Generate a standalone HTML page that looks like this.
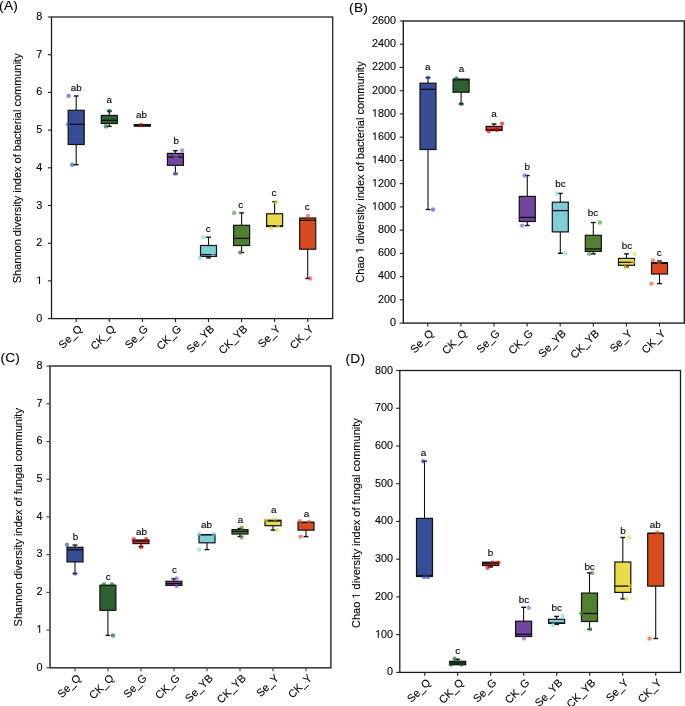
<!DOCTYPE html><html><head><meta charset="utf-8"><style>html,body{margin:0;padding:0;background:#fff;}svg{display:block;}text{font-family:"Liberation Sans", sans-serif;stroke:#000;stroke-width:0.12px;}</style></head><body>
<svg width="685" height="706" viewBox="0 0 685 706">
<rect x="0" y="0" width="685" height="706" fill="#fff"/><g opacity="0.999">
<g><line x1="76.2" y1="96" x2="76.2" y2="110.3" stroke="#111" stroke-width="1.1"/><line x1="73.8" y1="96" x2="78.6" y2="96" stroke="#111" stroke-width="1.4"/><line x1="76.2" y1="144.5" x2="76.2" y2="164.7" stroke="#111" stroke-width="1.1"/><line x1="73.8" y1="164.7" x2="78.6" y2="164.7" stroke="#111" stroke-width="1.4"/><rect x="68.2" y="110.3" width="16" height="34.2" fill="#374d97" stroke="#111" stroke-width="1.2"/><line x1="68.2" y1="124.3" x2="84.2" y2="124.3" stroke="#111" stroke-width="1.3"/><circle cx="68.6" cy="95.9" r="2.2" fill="#2a46b8" fill-opacity="0.62"/><circle cx="72.2" cy="164.7" r="2.2" fill="#2a46b8" fill-opacity="0.62"/><circle cx="68.2" cy="124.4" r="2.2" fill="#2a46b8" fill-opacity="0.62"/><text x="76.2" y="91" font-size="9.9" text-anchor="middle" fill="#000">ab</text><line x1="109.3" y1="111.1" x2="109.3" y2="115.4" stroke="#111" stroke-width="1.1"/><line x1="106.9" y1="111.1" x2="111.7" y2="111.1" stroke="#111" stroke-width="1.4"/><line x1="109.3" y1="123.5" x2="109.3" y2="126.4" stroke="#111" stroke-width="1.1"/><line x1="106.9" y1="126.4" x2="111.7" y2="126.4" stroke="#111" stroke-width="1.4"/><rect x="101.3" y="115.4" width="16" height="8.1" fill="#2d6132" stroke="#111" stroke-width="1.2"/><line x1="101.3" y1="120.3" x2="117.3" y2="120.3" stroke="#111" stroke-width="1.3"/><circle cx="109.3" cy="111" r="2.2" fill="#055615" fill-opacity="0.62"/><circle cx="105.9" cy="126.4" r="2.2" fill="#055615" fill-opacity="0.62"/><text x="109.3" y="103.4" font-size="9.9" text-anchor="middle" fill="#000">a</text><rect x="134.3" y="124.6" width="16" height="1.6" fill="#df3326" stroke="#111" stroke-width="1.2"/><line x1="134.3" y1="125.4" x2="150.3" y2="125.4" stroke="#111" stroke-width="1.3"/><circle cx="141.1" cy="125" r="2.2" fill="#d70000" fill-opacity="0.62"/><text x="141.4" y="117.7" font-size="9.9" text-anchor="middle" fill="#000">ab</text><line x1="175.4" y1="150.7" x2="175.4" y2="153.4" stroke="#111" stroke-width="1.1"/><line x1="173" y1="150.7" x2="177.8" y2="150.7" stroke="#111" stroke-width="1.4"/><line x1="175.4" y1="165.3" x2="175.4" y2="173.8" stroke="#111" stroke-width="1.1"/><line x1="173" y1="173.8" x2="177.8" y2="173.8" stroke="#111" stroke-width="1.4"/><rect x="167.4" y="153.4" width="16" height="11.9" fill="#72459e" stroke="#111" stroke-width="1.2"/><line x1="167.4" y1="157" x2="183.4" y2="157" stroke="#111" stroke-width="1.3"/><circle cx="182.1" cy="150.4" r="2.2" fill="#8652c7" fill-opacity="0.62"/><circle cx="175.5" cy="173.8" r="2.2" fill="#8652c7" fill-opacity="0.62"/><circle cx="176" cy="157" r="2.2" fill="#8652c7" fill-opacity="0.62"/><text x="176.3" y="143.9" font-size="9.9" text-anchor="middle" fill="#000">b</text><line x1="208.5" y1="237.2" x2="208.5" y2="245.5" stroke="#111" stroke-width="1.1"/><line x1="206.1" y1="237.2" x2="210.9" y2="237.2" stroke="#111" stroke-width="1.4"/><line x1="208.5" y1="256.4" x2="208.5" y2="257.9" stroke="#111" stroke-width="1.1"/><line x1="206.1" y1="257.9" x2="210.9" y2="257.9" stroke="#111" stroke-width="1.4"/><rect x="200.5" y="245.5" width="16" height="10.9" fill="#80ccd7" stroke="#111" stroke-width="1.2"/><line x1="200.5" y1="254.6" x2="216.5" y2="254.6" stroke="#111" stroke-width="1.3"/><circle cx="203.4" cy="237.2" r="2.2" fill="#79d3e4" fill-opacity="0.62"/><circle cx="199.9" cy="257.9" r="2.2" fill="#79d3e4" fill-opacity="0.62"/><circle cx="213" cy="254" r="2.2" fill="#79d3e4" fill-opacity="0.62"/><text x="208.2" y="231.6" font-size="9.9" text-anchor="middle" fill="#000">c</text><line x1="241.6" y1="212.9" x2="241.6" y2="225.3" stroke="#111" stroke-width="1.1"/><line x1="239.2" y1="212.9" x2="244" y2="212.9" stroke="#111" stroke-width="1.4"/><line x1="241.6" y1="245.5" x2="241.6" y2="252.5" stroke="#111" stroke-width="1.1"/><line x1="239.2" y1="252.5" x2="244" y2="252.5" stroke="#111" stroke-width="1.4"/><rect x="233.6" y="225.3" width="16" height="20.2" fill="#518032" stroke="#111" stroke-width="1.2"/><line x1="233.6" y1="238.4" x2="249.6" y2="238.4" stroke="#111" stroke-width="1.3"/><circle cx="234.2" cy="212.9" r="2.2" fill="#468e2d" fill-opacity="0.62"/><circle cx="240.1" cy="252.5" r="2.2" fill="#468e2d" fill-opacity="0.62"/><text x="240.7" y="207.8" font-size="9.9" text-anchor="middle" fill="#000">c</text><line x1="274.6" y1="201.7" x2="274.6" y2="213.8" stroke="#111" stroke-width="1.1"/><line x1="272.2" y1="201.7" x2="277" y2="201.7" stroke="#111" stroke-width="1.4"/><rect x="266.6" y="213.8" width="16" height="12.7" fill="#e8dc4d" stroke="#111" stroke-width="1.2"/><line x1="266.6" y1="225.8" x2="282.6" y2="225.8" stroke="#111" stroke-width="1.3"/><circle cx="275.8" cy="201.7" r="2.2" fill="#e7da35" fill-opacity="0.62"/><circle cx="271" cy="228" r="2.2" fill="#e7da35" fill-opacity="0.62"/><circle cx="278" cy="226" r="2.2" fill="#e7da35" fill-opacity="0.62"/><text x="273.9" y="195.8" font-size="9.9" text-anchor="middle" fill="#000">c</text><line x1="307.7" y1="249.2" x2="307.7" y2="278.5" stroke="#111" stroke-width="1.1"/><line x1="305.3" y1="278.5" x2="310.1" y2="278.5" stroke="#111" stroke-width="1.4"/><rect x="299.7" y="218" width="16" height="31.2" fill="#da4a1f" stroke="#111" stroke-width="1.2"/><line x1="299.7" y1="220.3" x2="315.7" y2="220.3" stroke="#111" stroke-width="1.3"/><circle cx="307.9" cy="215.9" r="2.2" fill="#e44628" fill-opacity="0.62"/><circle cx="310.3" cy="278.5" r="2.2" fill="#e44628" fill-opacity="0.62"/><text x="307.2" y="209.8" font-size="9.9" text-anchor="middle" fill="#000">c</text><rect x="51.5" y="17" width="281.2" height="301.6" fill="none" stroke="#1a1a1a" stroke-width="1.25"/><line x1="47.9" y1="318.6" x2="51.5" y2="318.6" stroke="#1a1a1a" stroke-width="1.1"/><text x="42.3" y="321.6" font-size="10.8" text-anchor="end" fill="#000">0</text><line x1="47.9" y1="280.9" x2="51.5" y2="280.9" stroke="#1a1a1a" stroke-width="1.1"/><text id="t1_1" x="42.3" y="283.9" font-size="10.8" text-anchor="end" fill="#000">&#8199;</text><g fill="#000" stroke="#000"><path transform="translate(36.284 283.900) scale(0.005273 -0.005273)" d="M515 0L515 1237L197 1010L197 1180L530 1409L696 1409L696 0Z" stroke-width="22.76"/></g><line x1="47.9" y1="243.2" x2="51.5" y2="243.2" stroke="#1a1a1a" stroke-width="1.1"/><text x="42.3" y="246.2" font-size="10.8" text-anchor="end" fill="#000">2</text><line x1="47.9" y1="205.5" x2="51.5" y2="205.5" stroke="#1a1a1a" stroke-width="1.1"/><text x="42.3" y="208.5" font-size="10.8" text-anchor="end" fill="#000">3</text><line x1="47.9" y1="167.8" x2="51.5" y2="167.8" stroke="#1a1a1a" stroke-width="1.1"/><text x="42.3" y="170.8" font-size="10.8" text-anchor="end" fill="#000">4</text><line x1="47.9" y1="130.1" x2="51.5" y2="130.1" stroke="#1a1a1a" stroke-width="1.1"/><text x="42.3" y="133.1" font-size="10.8" text-anchor="end" fill="#000">5</text><line x1="47.9" y1="92.4" x2="51.5" y2="92.4" stroke="#1a1a1a" stroke-width="1.1"/><text x="42.3" y="95.4" font-size="10.8" text-anchor="end" fill="#000">6</text><line x1="47.9" y1="54.7" x2="51.5" y2="54.7" stroke="#1a1a1a" stroke-width="1.1"/><text x="42.3" y="57.7" font-size="10.8" text-anchor="end" fill="#000">7</text><line x1="47.9" y1="17" x2="51.5" y2="17" stroke="#1a1a1a" stroke-width="1.1"/><text x="42.3" y="20" font-size="10.8" text-anchor="end" fill="#000">8</text><line x1="76.2" y1="318.6" x2="76.2" y2="322" stroke="#1a1a1a" stroke-width="1.1"/><text x="82.7" y="329.6" font-size="10.85" text-anchor="end" fill="#000" transform="rotate(-45 82.7 329.6)">Se_Q</text><line x1="109.27" y1="318.6" x2="109.27" y2="322" stroke="#1a1a1a" stroke-width="1.1"/><text x="115.77" y="329.6" font-size="10.85" text-anchor="end" fill="#000" transform="rotate(-45 115.77 329.6)">CK_Q</text><line x1="142.34" y1="318.6" x2="142.34" y2="322" stroke="#1a1a1a" stroke-width="1.1"/><text x="148.84" y="329.6" font-size="10.85" text-anchor="end" fill="#000" transform="rotate(-45 148.84 329.6)">Se_G</text><line x1="175.41" y1="318.6" x2="175.41" y2="322" stroke="#1a1a1a" stroke-width="1.1"/><text x="181.91" y="329.6" font-size="10.85" text-anchor="end" fill="#000" transform="rotate(-45 181.91 329.6)">CK_G</text><line x1="208.48" y1="318.6" x2="208.48" y2="322" stroke="#1a1a1a" stroke-width="1.1"/><text x="214.98" y="329.6" font-size="10.85" text-anchor="end" fill="#000" transform="rotate(-45 214.98 329.6)">Se_YB</text><line x1="241.55" y1="318.6" x2="241.55" y2="322" stroke="#1a1a1a" stroke-width="1.1"/><text x="248.05" y="329.6" font-size="10.85" text-anchor="end" fill="#000" transform="rotate(-45 248.05 329.6)">CK_YB</text><line x1="274.62" y1="318.6" x2="274.62" y2="322" stroke="#1a1a1a" stroke-width="1.1"/><text x="281.12" y="329.6" font-size="10.85" text-anchor="end" fill="#000" transform="rotate(-45 281.12 329.6)">Se_Y</text><line x1="307.69" y1="318.6" x2="307.69" y2="322" stroke="#1a1a1a" stroke-width="1.1"/><text x="314.19" y="329.6" font-size="10.85" text-anchor="end" fill="#000" transform="rotate(-45 314.19 329.6)">CK_Y</text><text x="21" y="168.3" font-size="11.0" text-anchor="middle" fill="#000" transform="rotate(-90 21 168.3)">Shannon diversity index of bacterial community</text><text x="-0.9" y="9.8" font-size="13.7" letter-spacing="0.25" fill="#000">(A)</text></g>
<g><line x1="428" y1="77.6" x2="428" y2="83.2" stroke="#111" stroke-width="1.1"/><line x1="425.6" y1="77.6" x2="430.4" y2="77.6" stroke="#111" stroke-width="1.4"/><line x1="428" y1="149.5" x2="428" y2="209.5" stroke="#111" stroke-width="1.1"/><line x1="425.6" y1="209.5" x2="430.4" y2="209.5" stroke="#111" stroke-width="1.4"/><rect x="420" y="83.2" width="16" height="66.3" fill="#374d97" stroke="#111" stroke-width="1.2"/><line x1="420" y1="89.3" x2="436" y2="89.3" stroke="#111" stroke-width="1.3"/><circle cx="428" cy="77.6" r="2.2" fill="#2a46b8" fill-opacity="0.62"/><circle cx="432.9" cy="209.5" r="2.2" fill="#2a46b8" fill-opacity="0.62"/><text x="427.8" y="70.3" font-size="9.9" text-anchor="middle" fill="#000">a</text><line x1="461.1" y1="92.2" x2="461.1" y2="103.9" stroke="#111" stroke-width="1.1"/><line x1="458.7" y1="103.9" x2="463.5" y2="103.9" stroke="#111" stroke-width="1.4"/><rect x="453.1" y="79.1" width="16" height="13.1" fill="#2d6132" stroke="#111" stroke-width="1.2"/><line x1="453.1" y1="79.8" x2="469.1" y2="79.8" stroke="#111" stroke-width="1.3"/><circle cx="456.4" cy="78.4" r="2.2" fill="#055615" fill-opacity="0.62"/><circle cx="461.4" cy="103.9" r="2.2" fill="#055615" fill-opacity="0.62"/><text x="461.4" y="71.8" font-size="9.9" text-anchor="middle" fill="#000">a</text><line x1="494.1" y1="124" x2="494.1" y2="126.4" stroke="#111" stroke-width="1.1"/><line x1="491.7" y1="124" x2="496.5" y2="124" stroke="#111" stroke-width="1.4"/><rect x="486.1" y="126.4" width="16" height="4" fill="#df3326" stroke="#111" stroke-width="1.2"/><line x1="486.1" y1="129.9" x2="502.1" y2="129.9" stroke="#111" stroke-width="1.3"/><circle cx="502" cy="123.6" r="2.2" fill="#d70000" fill-opacity="0.62"/><circle cx="488.8" cy="131.2" r="2.2" fill="#d70000" fill-opacity="0.62"/><circle cx="497" cy="130" r="2.2" fill="#d70000" fill-opacity="0.62"/><text x="494" y="117" font-size="9.9" text-anchor="middle" fill="#000">a</text><line x1="527.3" y1="175.5" x2="527.3" y2="196.4" stroke="#111" stroke-width="1.1"/><line x1="524.9" y1="175.5" x2="529.7" y2="175.5" stroke="#111" stroke-width="1.4"/><line x1="527.3" y1="221.5" x2="527.3" y2="225.5" stroke="#111" stroke-width="1.1"/><line x1="524.9" y1="225.5" x2="529.7" y2="225.5" stroke="#111" stroke-width="1.4"/><rect x="519.3" y="196.4" width="16" height="25.1" fill="#72459e" stroke="#111" stroke-width="1.2"/><line x1="519.3" y1="217.4" x2="535.3" y2="217.4" stroke="#111" stroke-width="1.3"/><circle cx="524.4" cy="175.5" r="2.2" fill="#8652c7" fill-opacity="0.62"/><circle cx="522.1" cy="225.6" r="2.2" fill="#8652c7" fill-opacity="0.62"/><text x="527.3" y="169.7" font-size="9.9" text-anchor="middle" fill="#000">b</text><line x1="560.3" y1="193.4" x2="560.3" y2="202.2" stroke="#111" stroke-width="1.1"/><line x1="557.9" y1="193.4" x2="562.7" y2="193.4" stroke="#111" stroke-width="1.4"/><line x1="560.3" y1="231.9" x2="560.3" y2="253.3" stroke="#111" stroke-width="1.1"/><line x1="557.9" y1="253.3" x2="562.7" y2="253.3" stroke="#111" stroke-width="1.4"/><rect x="552.3" y="202.2" width="16" height="29.7" fill="#80ccd7" stroke="#111" stroke-width="1.2"/><line x1="552.3" y1="210.6" x2="568.3" y2="210.6" stroke="#111" stroke-width="1.3"/><circle cx="557.1" cy="193.4" r="2.2" fill="#79d3e4" fill-opacity="0.62"/><circle cx="565.3" cy="253.3" r="2.2" fill="#79d3e4" fill-opacity="0.62"/><text x="560.5" y="186.5" font-size="9.9" text-anchor="middle" fill="#000">bc</text><line x1="593.3" y1="222.5" x2="593.3" y2="235.3" stroke="#111" stroke-width="1.1"/><line x1="590.9" y1="222.5" x2="595.7" y2="222.5" stroke="#111" stroke-width="1.4"/><line x1="593.3" y1="251.4" x2="593.3" y2="253.9" stroke="#111" stroke-width="1.1"/><line x1="590.9" y1="253.9" x2="595.7" y2="253.9" stroke="#111" stroke-width="1.4"/><rect x="585.3" y="235.3" width="16" height="16.1" fill="#518032" stroke="#111" stroke-width="1.2"/><line x1="585.3" y1="248.9" x2="601.3" y2="248.9" stroke="#111" stroke-width="1.3"/><circle cx="599.9" cy="222.5" r="2.2" fill="#468e2d" fill-opacity="0.62"/><circle cx="589.2" cy="253.9" r="2.2" fill="#468e2d" fill-opacity="0.62"/><text x="593" y="215.7" font-size="9.9" text-anchor="middle" fill="#000">bc</text><line x1="626.5" y1="253.9" x2="626.5" y2="258.4" stroke="#111" stroke-width="1.1"/><line x1="624.1" y1="253.9" x2="628.9" y2="253.9" stroke="#111" stroke-width="1.4"/><line x1="626.5" y1="265.3" x2="626.5" y2="267" stroke="#111" stroke-width="1.1"/><line x1="624.1" y1="267" x2="628.9" y2="267" stroke="#111" stroke-width="1.4"/><rect x="618.5" y="258.4" width="16" height="6.9" fill="#e8dc4d" stroke="#111" stroke-width="1.2"/><line x1="618.5" y1="262.3" x2="634.5" y2="262.3" stroke="#111" stroke-width="1.3"/><circle cx="634.5" cy="253.9" r="2.2" fill="#e7da35" fill-opacity="0.62"/><circle cx="625.4" cy="267.4" r="2.2" fill="#e7da35" fill-opacity="0.62"/><circle cx="633" cy="262" r="2.2" fill="#e7da35" fill-opacity="0.62"/><text x="626.9" y="248.5" font-size="9.9" text-anchor="middle" fill="#000">bc</text><line x1="659.5" y1="261" x2="659.5" y2="262.6" stroke="#111" stroke-width="1.1"/><line x1="657.1" y1="261" x2="661.9" y2="261" stroke="#111" stroke-width="1.4"/><line x1="659.5" y1="274" x2="659.5" y2="283.6" stroke="#111" stroke-width="1.1"/><line x1="657.1" y1="283.6" x2="661.9" y2="283.6" stroke="#111" stroke-width="1.4"/><rect x="651.5" y="262.6" width="16" height="11.4" fill="#da4a1f" stroke="#111" stroke-width="1.2"/><line x1="651.5" y1="263.3" x2="667.5" y2="263.3" stroke="#111" stroke-width="1.3"/><circle cx="653" cy="260.4" r="2.2" fill="#e44628" fill-opacity="0.62"/><circle cx="651.5" cy="283.6" r="2.2" fill="#e44628" fill-opacity="0.62"/><circle cx="659" cy="263" r="2.2" fill="#e44628" fill-opacity="0.62"/><text x="659.3" y="256" font-size="9.9" text-anchor="middle" fill="#000">c</text><rect x="403.3" y="21" width="281" height="302.1" fill="none" stroke="#222" stroke-width="1.4"/><line x1="399.7" y1="323.1" x2="403.3" y2="323.1" stroke="#222" stroke-width="1.1"/><text x="396" y="325.95" font-size="10.8" text-anchor="end" fill="#000">0</text><line x1="399.7" y1="299.86" x2="403.3" y2="299.86" stroke="#222" stroke-width="1.1"/><text x="396" y="302.71" font-size="10.8" text-anchor="end" fill="#000">200</text><line x1="399.7" y1="276.62" x2="403.3" y2="276.62" stroke="#222" stroke-width="1.1"/><text x="396" y="279.47" font-size="10.8" text-anchor="end" fill="#000">400</text><line x1="399.7" y1="253.38" x2="403.3" y2="253.38" stroke="#222" stroke-width="1.1"/><text x="396" y="256.23" font-size="10.8" text-anchor="end" fill="#000">600</text><line x1="399.7" y1="230.15" x2="403.3" y2="230.15" stroke="#222" stroke-width="1.1"/><text x="396" y="233" font-size="10.8" text-anchor="end" fill="#000">800</text><line x1="399.7" y1="206.91" x2="403.3" y2="206.91" stroke="#222" stroke-width="1.1"/><text id="t1_2" x="396" y="209.76" font-size="10.8" text-anchor="end" fill="#000">&#8199;000</text><g fill="#000" stroke="#000"><path transform="translate(371.969 209.760) scale(0.005273 -0.005273)" d="M515 0L515 1237L197 1010L197 1180L530 1409L696 1409L696 0Z" stroke-width="22.76"/></g><line x1="399.7" y1="183.67" x2="403.3" y2="183.67" stroke="#222" stroke-width="1.1"/><text id="t1_3" x="396" y="186.52" font-size="10.8" text-anchor="end" fill="#000">&#8199;200</text><g fill="#000" stroke="#000"><path transform="translate(371.969 186.520) scale(0.005273 -0.005273)" d="M515 0L515 1237L197 1010L197 1180L530 1409L696 1409L696 0Z" stroke-width="22.76"/></g><line x1="399.7" y1="160.43" x2="403.3" y2="160.43" stroke="#222" stroke-width="1.1"/><text id="t1_4" x="396" y="163.28" font-size="10.8" text-anchor="end" fill="#000">&#8199;400</text><g fill="#000" stroke="#000"><path transform="translate(371.969 163.280) scale(0.005273 -0.005273)" d="M515 0L515 1237L197 1010L197 1180L530 1409L696 1409L696 0Z" stroke-width="22.76"/></g><line x1="399.7" y1="137.19" x2="403.3" y2="137.19" stroke="#222" stroke-width="1.1"/><text id="t1_5" x="396" y="140.04" font-size="10.8" text-anchor="end" fill="#000">&#8199;600</text><g fill="#000" stroke="#000"><path transform="translate(371.969 140.040) scale(0.005273 -0.005273)" d="M515 0L515 1237L197 1010L197 1180L530 1409L696 1409L696 0Z" stroke-width="22.76"/></g><line x1="399.7" y1="113.95" x2="403.3" y2="113.95" stroke="#222" stroke-width="1.1"/><text id="t1_6" x="396" y="116.8" font-size="10.8" text-anchor="end" fill="#000">&#8199;800</text><g fill="#000" stroke="#000"><path transform="translate(371.969 116.800) scale(0.005273 -0.005273)" d="M515 0L515 1237L197 1010L197 1180L530 1409L696 1409L696 0Z" stroke-width="22.76"/></g><line x1="399.7" y1="90.72" x2="403.3" y2="90.72" stroke="#222" stroke-width="1.1"/><text x="396" y="93.57" font-size="10.8" text-anchor="end" fill="#000">2000</text><line x1="399.7" y1="67.48" x2="403.3" y2="67.48" stroke="#222" stroke-width="1.1"/><text x="396" y="70.33" font-size="10.8" text-anchor="end" fill="#000">2200</text><line x1="399.7" y1="44.24" x2="403.3" y2="44.24" stroke="#222" stroke-width="1.1"/><text x="396" y="47.09" font-size="10.8" text-anchor="end" fill="#000">2400</text><line x1="399.7" y1="21" x2="403.3" y2="21" stroke="#222" stroke-width="1.1"/><text x="396" y="23.85" font-size="10.8" text-anchor="end" fill="#000">2600</text><line x1="427.8" y1="323.1" x2="427.8" y2="326.5" stroke="#222" stroke-width="1.1"/><text x="434.3" y="334.1" font-size="10.85" text-anchor="end" fill="#000" transform="rotate(-45 434.3 334.1)">Se_Q</text><line x1="460.9" y1="323.1" x2="460.9" y2="326.5" stroke="#222" stroke-width="1.1"/><text x="467.4" y="334.1" font-size="10.85" text-anchor="end" fill="#000" transform="rotate(-45 467.4 334.1)">CK_Q</text><line x1="494" y1="323.1" x2="494" y2="326.5" stroke="#222" stroke-width="1.1"/><text x="500.5" y="334.1" font-size="10.85" text-anchor="end" fill="#000" transform="rotate(-45 500.5 334.1)">Se_G</text><line x1="527.1" y1="323.1" x2="527.1" y2="326.5" stroke="#222" stroke-width="1.1"/><text x="533.6" y="334.1" font-size="10.85" text-anchor="end" fill="#000" transform="rotate(-45 533.6 334.1)">CK_G</text><line x1="560.2" y1="323.1" x2="560.2" y2="326.5" stroke="#222" stroke-width="1.1"/><text x="566.7" y="334.1" font-size="10.85" text-anchor="end" fill="#000" transform="rotate(-45 566.7 334.1)">Se_YB</text><line x1="593.3" y1="323.1" x2="593.3" y2="326.5" stroke="#222" stroke-width="1.1"/><text x="599.8" y="334.1" font-size="10.85" text-anchor="end" fill="#000" transform="rotate(-45 599.8 334.1)">CK_YB</text><line x1="626.4" y1="323.1" x2="626.4" y2="326.5" stroke="#222" stroke-width="1.1"/><text x="632.9" y="334.1" font-size="10.85" text-anchor="end" fill="#000" transform="rotate(-45 632.9 334.1)">Se_Y</text><line x1="659.5" y1="323.1" x2="659.5" y2="326.5" stroke="#222" stroke-width="1.1"/><text x="666" y="334.1" font-size="10.85" text-anchor="end" fill="#000" transform="rotate(-45 666 334.1)">CK_Y</text><text id="t1_7" x="363.5" y="172" font-size="11.0" text-anchor="middle" fill="#000" transform="rotate(-90 363.5 172)">Chao &#8199; diversity index of bacterial community</text><g fill="#000" stroke="#000" transform="rotate(-90 363.5 172)"><path transform="translate(282.180 172.000) scale(0.005371 -0.005371)" d="M515 0L515 1237L197 1010L197 1180L530 1409L696 1409L696 0Z" stroke-width="22.34"/></g><text x="349.1" y="11.7" font-size="13.7" letter-spacing="0.25" fill="#000">(B)</text></g>
<g><line x1="75" y1="545.1" x2="75" y2="547.3" stroke="#111" stroke-width="1.1"/><line x1="72.6" y1="545.1" x2="77.4" y2="545.1" stroke="#111" stroke-width="1.4"/><line x1="75" y1="561.9" x2="75" y2="573.6" stroke="#111" stroke-width="1.1"/><line x1="72.6" y1="573.6" x2="77.4" y2="573.6" stroke="#111" stroke-width="1.4"/><rect x="67" y="547.3" width="16" height="14.6" fill="#374d97" stroke="#111" stroke-width="1.2"/><line x1="67" y1="549.9" x2="83" y2="549.9" stroke="#111" stroke-width="1.3"/><circle cx="67" cy="544.8" r="2.2" fill="#2a46b8" fill-opacity="0.62"/><circle cx="75" cy="573.6" r="2.2" fill="#2a46b8" fill-opacity="0.62"/><text x="75.4" y="540" font-size="9.9" text-anchor="middle" fill="#000">b</text><line x1="107.9" y1="610.3" x2="107.9" y2="635.4" stroke="#111" stroke-width="1.1"/><line x1="105.5" y1="635.4" x2="110.3" y2="635.4" stroke="#111" stroke-width="1.4"/><rect x="99.9" y="585.4" width="16" height="24.9" fill="#2d6132" stroke="#111" stroke-width="1.2"/><line x1="99.9" y1="585.4" x2="115.9" y2="585.4" stroke="#111" stroke-width="1.3"/><circle cx="104" cy="584.5" r="2.2" fill="#055615" fill-opacity="0.62"/><circle cx="112" cy="584.5" r="2.2" fill="#055615" fill-opacity="0.62"/><circle cx="113" cy="635.4" r="2.2" fill="#055615" fill-opacity="0.62"/><text x="108.3" y="579.9" font-size="9.9" text-anchor="middle" fill="#000">c</text><line x1="141" y1="543.6" x2="141" y2="546.7" stroke="#111" stroke-width="1.1"/><line x1="138.6" y1="546.7" x2="143.4" y2="546.7" stroke="#111" stroke-width="1.4"/><rect x="133" y="540" width="16" height="3.6" fill="#df3326" stroke="#111" stroke-width="1.2"/><line x1="133" y1="541" x2="149" y2="541" stroke="#111" stroke-width="1.3"/><circle cx="133.8" cy="539.3" r="2.2" fill="#d70000" fill-opacity="0.62"/><circle cx="146.2" cy="539.3" r="2.2" fill="#d70000" fill-opacity="0.62"/><circle cx="141.1" cy="547" r="2.2" fill="#d70000" fill-opacity="0.62"/><text x="141.4" y="534.6" font-size="9.9" text-anchor="middle" fill="#000">ab</text><line x1="173.9" y1="578.8" x2="173.9" y2="581.3" stroke="#111" stroke-width="1.1"/><line x1="171.5" y1="578.8" x2="176.3" y2="578.8" stroke="#111" stroke-width="1.4"/><rect x="165.9" y="581.3" width="16" height="4.1" fill="#72459e" stroke="#111" stroke-width="1.2"/><line x1="165.9" y1="583.6" x2="181.9" y2="583.6" stroke="#111" stroke-width="1.3"/><circle cx="176.7" cy="578.4" r="2.2" fill="#8652c7" fill-opacity="0.62"/><circle cx="176.7" cy="586.1" r="2.2" fill="#8652c7" fill-opacity="0.62"/><text x="174.4" y="573" font-size="9.9" text-anchor="middle" fill="#000">c</text><line x1="207" y1="542.8" x2="207" y2="549.6" stroke="#111" stroke-width="1.1"/><line x1="204.6" y1="549.6" x2="209.4" y2="549.6" stroke="#111" stroke-width="1.4"/><rect x="199" y="534.7" width="16" height="8.1" fill="#80ccd7" stroke="#111" stroke-width="1.2"/><line x1="199" y1="534.7" x2="215" y2="534.7" stroke="#111" stroke-width="1.3"/><circle cx="199.2" cy="533.9" r="2.2" fill="#79d3e4" fill-opacity="0.62"/><circle cx="213.8" cy="533.9" r="2.2" fill="#79d3e4" fill-opacity="0.62"/><circle cx="199.3" cy="549.6" r="2.2" fill="#79d3e4" fill-opacity="0.62"/><text x="206.6" y="527.7" font-size="9.9" text-anchor="middle" fill="#000">ab</text><line x1="240" y1="528.5" x2="240" y2="529.6" stroke="#111" stroke-width="1.1"/><line x1="237.6" y1="528.5" x2="242.4" y2="528.5" stroke="#111" stroke-width="1.4"/><line x1="240" y1="534" x2="240" y2="536.5" stroke="#111" stroke-width="1.1"/><line x1="237.6" y1="536.5" x2="242.4" y2="536.5" stroke="#111" stroke-width="1.4"/><rect x="232" y="529.6" width="16" height="4.4" fill="#518032" stroke="#111" stroke-width="1.2"/><line x1="232" y1="531.5" x2="248" y2="531.5" stroke="#111" stroke-width="1.3"/><circle cx="241.7" cy="527.7" r="2.2" fill="#468e2d" fill-opacity="0.62"/><circle cx="241.7" cy="537.2" r="2.2" fill="#468e2d" fill-opacity="0.62"/><text x="240.5" y="522.6" font-size="9.9" text-anchor="middle" fill="#000">a</text><line x1="273" y1="525.7" x2="273" y2="530.1" stroke="#111" stroke-width="1.1"/><line x1="270.6" y1="530.1" x2="275.4" y2="530.1" stroke="#111" stroke-width="1.4"/><rect x="265" y="520.2" width="16" height="5.5" fill="#e8dc4d" stroke="#111" stroke-width="1.2"/><line x1="265" y1="521" x2="281" y2="521" stroke="#111" stroke-width="1.3"/><circle cx="275" cy="518.6" r="2.2" fill="#e7da35" fill-opacity="0.62"/><circle cx="277.6" cy="530.1" r="2.2" fill="#e7da35" fill-opacity="0.62"/><circle cx="266" cy="520" r="2.2" fill="#e7da35" fill-opacity="0.62"/><text x="273.7" y="513" font-size="9.9" text-anchor="middle" fill="#000">a</text><line x1="306" y1="530.1" x2="306" y2="536.6" stroke="#111" stroke-width="1.1"/><line x1="303.6" y1="536.6" x2="308.4" y2="536.6" stroke="#111" stroke-width="1.4"/><rect x="298" y="522.2" width="16" height="7.9" fill="#da4a1f" stroke="#111" stroke-width="1.2"/><line x1="298" y1="522.5" x2="314" y2="522.5" stroke="#111" stroke-width="1.3"/><circle cx="299.9" cy="521.3" r="2.2" fill="#e44628" fill-opacity="0.62"/><circle cx="300.6" cy="536.6" r="2.2" fill="#e44628" fill-opacity="0.62"/><circle cx="309" cy="522" r="2.2" fill="#e44628" fill-opacity="0.62"/><text x="306.5" y="517" font-size="9.9" text-anchor="middle" fill="#000">a</text><rect x="50" y="366" width="280.9" height="301.8" fill="none" stroke="#3e3e3e" stroke-width="1.6"/><line x1="46.4" y1="667.8" x2="50" y2="667.8" stroke="#3e3e3e" stroke-width="1.1"/><text x="42.5" y="670.5" font-size="10.8" text-anchor="end" fill="#000">0</text><line x1="46.4" y1="630.09" x2="50" y2="630.09" stroke="#3e3e3e" stroke-width="1.1"/><text id="t1_8" x="42.5" y="632.79" font-size="10.8" text-anchor="end" fill="#000">&#8199;</text><g fill="#000" stroke="#000"><path transform="translate(36.484 632.790) scale(0.005273 -0.005273)" d="M515 0L515 1237L197 1010L197 1180L530 1409L696 1409L696 0Z" stroke-width="22.76"/></g><line x1="46.4" y1="592.38" x2="50" y2="592.38" stroke="#3e3e3e" stroke-width="1.1"/><text x="42.5" y="595.08" font-size="10.8" text-anchor="end" fill="#000">2</text><line x1="46.4" y1="554.67" x2="50" y2="554.67" stroke="#3e3e3e" stroke-width="1.1"/><text x="42.5" y="557.37" font-size="10.8" text-anchor="end" fill="#000">3</text><line x1="46.4" y1="516.96" x2="50" y2="516.96" stroke="#3e3e3e" stroke-width="1.1"/><text x="42.5" y="519.66" font-size="10.8" text-anchor="end" fill="#000">4</text><line x1="46.4" y1="479.25" x2="50" y2="479.25" stroke="#3e3e3e" stroke-width="1.1"/><text x="42.5" y="481.95" font-size="10.8" text-anchor="end" fill="#000">5</text><line x1="46.4" y1="441.54" x2="50" y2="441.54" stroke="#3e3e3e" stroke-width="1.1"/><text x="42.5" y="444.24" font-size="10.8" text-anchor="end" fill="#000">6</text><line x1="46.4" y1="403.83" x2="50" y2="403.83" stroke="#3e3e3e" stroke-width="1.1"/><text x="42.5" y="406.53" font-size="10.8" text-anchor="end" fill="#000">7</text><line x1="46.4" y1="366.12" x2="50" y2="366.12" stroke="#3e3e3e" stroke-width="1.1"/><text x="42.5" y="368.82" font-size="10.8" text-anchor="end" fill="#000">8</text><line x1="75" y1="667.8" x2="75" y2="671.2" stroke="#3e3e3e" stroke-width="1.1"/><text x="81.5" y="678.8" font-size="10.85" text-anchor="end" fill="#000" transform="rotate(-45 81.5 678.8)">Se_Q</text><line x1="108" y1="667.8" x2="108" y2="671.2" stroke="#3e3e3e" stroke-width="1.1"/><text x="114.5" y="678.8" font-size="10.85" text-anchor="end" fill="#000" transform="rotate(-45 114.5 678.8)">CK_Q</text><line x1="141" y1="667.8" x2="141" y2="671.2" stroke="#3e3e3e" stroke-width="1.1"/><text x="147.5" y="678.8" font-size="10.85" text-anchor="end" fill="#000" transform="rotate(-45 147.5 678.8)">Se_G</text><line x1="174" y1="667.8" x2="174" y2="671.2" stroke="#3e3e3e" stroke-width="1.1"/><text x="180.5" y="678.8" font-size="10.85" text-anchor="end" fill="#000" transform="rotate(-45 180.5 678.8)">CK_G</text><line x1="207" y1="667.8" x2="207" y2="671.2" stroke="#3e3e3e" stroke-width="1.1"/><text x="213.5" y="678.8" font-size="10.85" text-anchor="end" fill="#000" transform="rotate(-45 213.5 678.8)">Se_YB</text><line x1="240" y1="667.8" x2="240" y2="671.2" stroke="#3e3e3e" stroke-width="1.1"/><text x="246.5" y="678.8" font-size="10.85" text-anchor="end" fill="#000" transform="rotate(-45 246.5 678.8)">CK_YB</text><line x1="273" y1="667.8" x2="273" y2="671.2" stroke="#3e3e3e" stroke-width="1.1"/><text x="279.5" y="678.8" font-size="10.85" text-anchor="end" fill="#000" transform="rotate(-45 279.5 678.8)">Se_Y</text><line x1="306" y1="667.8" x2="306" y2="671.2" stroke="#3e3e3e" stroke-width="1.1"/><text x="312.5" y="678.8" font-size="10.85" text-anchor="end" fill="#000" transform="rotate(-45 312.5 678.8)">CK_Y</text><text x="21.9" y="517.25" font-size="11.0" text-anchor="middle" fill="#000" transform="rotate(-90 21.9 517.25)">Shannon diversity index of fungal community</text><text x="0.4" y="361.5" font-size="13.7" letter-spacing="0.25" fill="#000">(C)</text></g>
<g><line x1="424.5" y1="461.2" x2="424.5" y2="518.4" stroke="#111" stroke-width="1.1"/><line x1="422.1" y1="461.2" x2="426.9" y2="461.2" stroke="#111" stroke-width="1.4"/><rect x="416.5" y="518.4" width="16" height="58.1" fill="#374d97" stroke="#111" stroke-width="1.2"/><line x1="416.5" y1="575.5" x2="432.5" y2="575.5" stroke="#111" stroke-width="1.3"/><circle cx="423.2" cy="461.2" r="2.2" fill="#2a46b8" fill-opacity="0.62"/><circle cx="424" cy="577" r="2.2" fill="#2a46b8" fill-opacity="0.62"/><circle cx="428" cy="577" r="2.2" fill="#2a46b8" fill-opacity="0.62"/><text x="423.5" y="456.4" font-size="9.9" text-anchor="middle" fill="#000">a</text><line x1="457.7" y1="659.3" x2="457.7" y2="661.3" stroke="#111" stroke-width="1.1"/><line x1="455.3" y1="659.3" x2="460.1" y2="659.3" stroke="#111" stroke-width="1.4"/><rect x="449.7" y="661.3" width="16" height="3.4" fill="#2d6132" stroke="#111" stroke-width="1.2"/><line x1="449.7" y1="663" x2="465.7" y2="663" stroke="#111" stroke-width="1.3"/><circle cx="454.6" cy="658.8" r="2.2" fill="#055615" fill-opacity="0.62"/><circle cx="451" cy="664.4" r="2.2" fill="#055615" fill-opacity="0.62"/><circle cx="461.6" cy="664.4" r="2.2" fill="#055615" fill-opacity="0.62"/><text x="457.8" y="653.7" font-size="9.9" text-anchor="middle" fill="#000">c</text><line x1="490.6" y1="565.5" x2="490.6" y2="567" stroke="#111" stroke-width="1.1"/><line x1="488.2" y1="567" x2="493" y2="567" stroke="#111" stroke-width="1.4"/><rect x="482.6" y="562.2" width="16" height="3.3" fill="#df3326" stroke="#111" stroke-width="1.2"/><line x1="482.6" y1="563.5" x2="498.6" y2="563.5" stroke="#111" stroke-width="1.3"/><circle cx="492.6" cy="562.6" r="2.2" fill="#d70000" fill-opacity="0.62"/><circle cx="498.4" cy="562.6" r="2.2" fill="#d70000" fill-opacity="0.62"/><circle cx="487.5" cy="567.7" r="2.2" fill="#d70000" fill-opacity="0.62"/><text x="490.4" y="556.1" font-size="9.9" text-anchor="middle" fill="#000">b</text><line x1="523.6" y1="607.3" x2="523.6" y2="621.2" stroke="#111" stroke-width="1.1"/><line x1="521.2" y1="607.3" x2="526" y2="607.3" stroke="#111" stroke-width="1.4"/><rect x="515.6" y="621.2" width="16" height="15.3" fill="#72459e" stroke="#111" stroke-width="1.2"/><line x1="515.6" y1="634.3" x2="531.6" y2="634.3" stroke="#111" stroke-width="1.3"/><circle cx="528.8" cy="607.7" r="2.2" fill="#8652c7" fill-opacity="0.62"/><circle cx="523.9" cy="638.4" r="2.2" fill="#8652c7" fill-opacity="0.62"/><text x="523.9" y="603.1" font-size="9.9" text-anchor="middle" fill="#000">bc</text><line x1="556.6" y1="616.4" x2="556.6" y2="619.3" stroke="#111" stroke-width="1.1"/><line x1="554.2" y1="616.4" x2="559" y2="616.4" stroke="#111" stroke-width="1.4"/><line x1="556.6" y1="623.4" x2="556.6" y2="624.4" stroke="#111" stroke-width="1.1"/><line x1="554.2" y1="624.4" x2="559" y2="624.4" stroke="#111" stroke-width="1.4"/><rect x="548.6" y="619.3" width="16" height="4.1" fill="#80ccd7" stroke="#111" stroke-width="1.2"/><line x1="548.6" y1="623" x2="564.6" y2="623" stroke="#111" stroke-width="1.3"/><circle cx="562.8" cy="616.4" r="2.2" fill="#79d3e4" fill-opacity="0.62"/><circle cx="553.1" cy="624.9" r="2.2" fill="#79d3e4" fill-opacity="0.62"/><text x="556.7" y="611.3" font-size="9.9" text-anchor="middle" fill="#000">bc</text><line x1="589.5" y1="572.9" x2="589.5" y2="593.1" stroke="#111" stroke-width="1.1"/><line x1="587.1" y1="572.9" x2="591.9" y2="572.9" stroke="#111" stroke-width="1.4"/><line x1="589.5" y1="621.5" x2="589.5" y2="629.3" stroke="#111" stroke-width="1.1"/><line x1="587.1" y1="629.3" x2="591.9" y2="629.3" stroke="#111" stroke-width="1.4"/><rect x="581.5" y="593.1" width="16" height="28.4" fill="#518032" stroke="#111" stroke-width="1.2"/><line x1="581.5" y1="613.5" x2="597.5" y2="613.5" stroke="#111" stroke-width="1.3"/><circle cx="592.3" cy="572.9" r="2.2" fill="#468e2d" fill-opacity="0.62"/><circle cx="590.1" cy="629.3" r="2.2" fill="#468e2d" fill-opacity="0.62"/><circle cx="581.1" cy="613.5" r="2.2" fill="#468e2d" fill-opacity="0.62"/><text x="589.6" y="569.7" font-size="9.9" text-anchor="middle" fill="#000">bc</text><line x1="622.8" y1="537.5" x2="622.8" y2="562" stroke="#111" stroke-width="1.1"/><line x1="620.4" y1="537.5" x2="625.2" y2="537.5" stroke="#111" stroke-width="1.4"/><line x1="622.8" y1="592.4" x2="622.8" y2="598.9" stroke="#111" stroke-width="1.1"/><line x1="620.4" y1="598.9" x2="625.2" y2="598.9" stroke="#111" stroke-width="1.4"/><rect x="614.8" y="562" width="16" height="30.4" fill="#e8dc4d" stroke="#111" stroke-width="1.2"/><line x1="614.8" y1="586.1" x2="630.8" y2="586.1" stroke="#111" stroke-width="1.3"/><circle cx="629" cy="537.5" r="2.2" fill="#e7da35" fill-opacity="0.62"/><circle cx="630" cy="586" r="2.2" fill="#e7da35" fill-opacity="0.62"/><circle cx="626.4" cy="598.9" r="2.2" fill="#e7da35" fill-opacity="0.62"/><text x="622.9" y="534.3" font-size="9.9" text-anchor="middle" fill="#000">b</text><line x1="655.7" y1="586.1" x2="655.7" y2="638.5" stroke="#111" stroke-width="1.1"/><line x1="653.3" y1="638.5" x2="658.1" y2="638.5" stroke="#111" stroke-width="1.4"/><rect x="647.7" y="533.3" width="16" height="52.8" fill="#da4a1f" stroke="#111" stroke-width="1.2"/><line x1="647.7" y1="533.3" x2="663.7" y2="533.3" stroke="#111" stroke-width="1.3"/><circle cx="657.3" cy="532.6" r="2.2" fill="#e44628" fill-opacity="0.62"/><circle cx="649.6" cy="638.5" r="2.2" fill="#e44628" fill-opacity="0.62"/><text x="655.2" y="527.6" font-size="9.9" text-anchor="middle" fill="#000">ab</text><rect x="399.8" y="370.5" width="280.7" height="301.9" fill="none" stroke="#1c1c1c" stroke-width="1.3"/><line x1="396.2" y1="672.4" x2="399.8" y2="672.4" stroke="#1c1c1c" stroke-width="1.1"/><text x="393.1" y="675.4" font-size="10.8" text-anchor="end" fill="#000">0</text><line x1="396.2" y1="634.66" x2="399.8" y2="634.66" stroke="#1c1c1c" stroke-width="1.1"/><text id="t1_9" x="393.1" y="637.66" font-size="10.8" text-anchor="end" fill="#000">&#8199;00</text><g fill="#000" stroke="#000"><path transform="translate(375.084 637.660) scale(0.005273 -0.005273)" d="M515 0L515 1237L197 1010L197 1180L530 1409L696 1409L696 0Z" stroke-width="22.76"/></g><line x1="396.2" y1="596.92" x2="399.8" y2="596.92" stroke="#1c1c1c" stroke-width="1.1"/><text x="393.1" y="599.92" font-size="10.8" text-anchor="end" fill="#000">200</text><line x1="396.2" y1="559.19" x2="399.8" y2="559.19" stroke="#1c1c1c" stroke-width="1.1"/><text x="393.1" y="562.19" font-size="10.8" text-anchor="end" fill="#000">300</text><line x1="396.2" y1="521.45" x2="399.8" y2="521.45" stroke="#1c1c1c" stroke-width="1.1"/><text x="393.1" y="524.45" font-size="10.8" text-anchor="end" fill="#000">400</text><line x1="396.2" y1="483.71" x2="399.8" y2="483.71" stroke="#1c1c1c" stroke-width="1.1"/><text x="393.1" y="486.71" font-size="10.8" text-anchor="end" fill="#000">500</text><line x1="396.2" y1="445.98" x2="399.8" y2="445.98" stroke="#1c1c1c" stroke-width="1.1"/><text x="393.1" y="448.98" font-size="10.8" text-anchor="end" fill="#000">600</text><line x1="396.2" y1="408.24" x2="399.8" y2="408.24" stroke="#1c1c1c" stroke-width="1.1"/><text x="393.1" y="411.24" font-size="10.8" text-anchor="end" fill="#000">700</text><line x1="396.2" y1="370.5" x2="399.8" y2="370.5" stroke="#1c1c1c" stroke-width="1.1"/><text x="393.1" y="373.5" font-size="10.8" text-anchor="end" fill="#000">800</text><line x1="424.7" y1="672.4" x2="424.7" y2="675.8" stroke="#1c1c1c" stroke-width="1.1"/><text x="431.2" y="683.4" font-size="10.85" text-anchor="end" fill="#000" transform="rotate(-45 431.2 683.4)">Se_Q</text><line x1="457.7" y1="672.4" x2="457.7" y2="675.8" stroke="#1c1c1c" stroke-width="1.1"/><text x="464.2" y="683.4" font-size="10.85" text-anchor="end" fill="#000" transform="rotate(-45 464.2 683.4)">CK_Q</text><line x1="490.7" y1="672.4" x2="490.7" y2="675.8" stroke="#1c1c1c" stroke-width="1.1"/><text x="497.2" y="683.4" font-size="10.85" text-anchor="end" fill="#000" transform="rotate(-45 497.2 683.4)">Se_G</text><line x1="523.7" y1="672.4" x2="523.7" y2="675.8" stroke="#1c1c1c" stroke-width="1.1"/><text x="530.2" y="683.4" font-size="10.85" text-anchor="end" fill="#000" transform="rotate(-45 530.2 683.4)">CK_G</text><line x1="556.7" y1="672.4" x2="556.7" y2="675.8" stroke="#1c1c1c" stroke-width="1.1"/><text x="563.2" y="683.4" font-size="10.85" text-anchor="end" fill="#000" transform="rotate(-45 563.2 683.4)">Se_YB</text><line x1="589.7" y1="672.4" x2="589.7" y2="675.8" stroke="#1c1c1c" stroke-width="1.1"/><text x="596.2" y="683.4" font-size="10.85" text-anchor="end" fill="#000" transform="rotate(-45 596.2 683.4)">CK_YB</text><line x1="622.7" y1="672.4" x2="622.7" y2="675.8" stroke="#1c1c1c" stroke-width="1.1"/><text x="629.2" y="683.4" font-size="10.85" text-anchor="end" fill="#000" transform="rotate(-45 629.2 683.4)">Se_Y</text><line x1="655.7" y1="672.4" x2="655.7" y2="675.8" stroke="#1c1c1c" stroke-width="1.1"/><text x="662.2" y="683.4" font-size="10.85" text-anchor="end" fill="#000" transform="rotate(-45 662.2 683.4)">CK_Y</text><text id="t1_10" x="360" y="523.1" font-size="11.0" text-anchor="middle" fill="#000" transform="rotate(-90 360 523.1)">Chao &#8199; diversity index of fungal community</text><g fill="#000" stroke="#000" transform="rotate(-90 360 523.1)"><path transform="translate(284.484 523.100) scale(0.005371 -0.005371)" d="M515 0L515 1237L197 1010L197 1180L530 1409L696 1409L696 0Z" stroke-width="22.34"/></g><text x="345.5" y="362.8" font-size="13.7" letter-spacing="0.25" fill="#000">(D)</text></g>
</g></svg></body></html>
